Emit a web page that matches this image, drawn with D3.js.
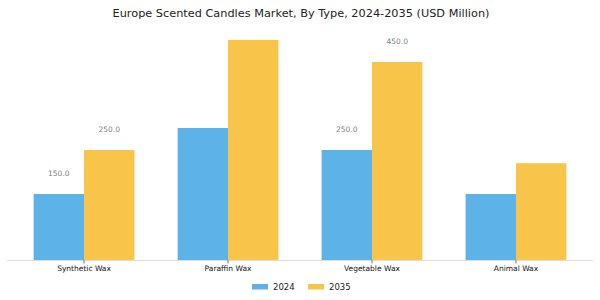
<!DOCTYPE html>
<html><head><meta charset="utf-8">
<script src="https://cdn.jsdelivr.net/npm/d3@7"></script>
<style>body{margin:0;background:#fff}svg{display:block;font-family:"DejaVu Sans",sans-serif}</style>
</head><body><svg id="c" width="600" height="300"></svg>
<script>
const categories = ["Synthetic Wax", "Paraffin Wax", "Vegetable Wax", "Animal Wax"];
const seriesNames = ["2024", "2035"];
const values2024 = [150, 300, 250, 150];
const values2035 = [250, 500, 450, 220];
const shownLabels2024 = [true, false, true, false];
const shownLabels2035 = [true, false, true, false];
const colors = ["#5DB3E8", "#F9C44A"];

const svg = d3.select("#c");
const baseY = 260, topY = 29;
const x = d3.scaleLinear().domain([-0.535, 3.535]).range([7, 593]);
const y = d3.scaleLinear().domain([0, 525]).range([baseY, topY]);
const bw = 0.35;

svg.append("text").attr("x", 301).attr("y", 17).attr("text-anchor", "middle")
  .attr("font-size", 11.3).attr("fill", "#222").text("Europe Scented Candles Market, By Type, 2024-2035 (USD Million)");

const series = [values2024, values2035];
const shown = [shownLabels2024, shownLabels2035];
series.forEach((vals, s) => {
  const off = s === 0 ? -bw/2 : bw/2;
  const data = vals.map((v, i) => ({v, i, show: shown[s][i]}));
  svg.append("g").selectAll("rect").data(data).join("rect")
    .attr("x", d => x(d.i + off - bw/2))
    .attr("width", x(bw) - x(0))
    .attr("y", d => y(d.v))
    .attr("height", d => baseY - y(d.v))
    .attr("fill", colors[s]);
  svg.append("g").selectAll("text").data(data.filter(d => d.show)).join("text")
    .attr("x", d => x(d.i + off))
    .attr("y", d => y(d.v) - 18)
    .attr("text-anchor", "middle").attr("font-size", 7.5).attr("fill", "#808080")
    .text(d => d.v.toFixed(1));
});

svg.append("line").attr("x1", 7).attr("x2", 593).attr("y1", baseY + 0.5).attr("y2", baseY + 0.5)
  .attr("stroke", "#ddd").attr("stroke-width", 1);
const ax = svg.append("g");
categories.forEach((c, i) => {
  ax.append("line").attr("x1", x(i)).attr("x2", x(i)).attr("y1", baseY).attr("y2", baseY + 3.5)
    .attr("stroke", "#555").attr("stroke-width", 0.8);
  ax.append("text").attr("x", x(i)).attr("y", baseY + 11).attr("text-anchor", "middle")
    .attr("font-size", 7.5).attr("fill", "#111").text(c);
});

const leg = [{name: seriesNames[0], c: colors[0], x: 252}, {name: seriesNames[1], c: colors[1], x: 308}];
leg.forEach(l => {
  svg.append("rect").attr("x", l.x).attr("y", 284).attr("width", 16).attr("height", 5.5).attr("fill", l.c);
  svg.append("text").attr("x", l.x + 21).attr("y", 290).attr("font-size", 8.5).attr("fill", "#222").text(l.name);
});
</script></body></html>
